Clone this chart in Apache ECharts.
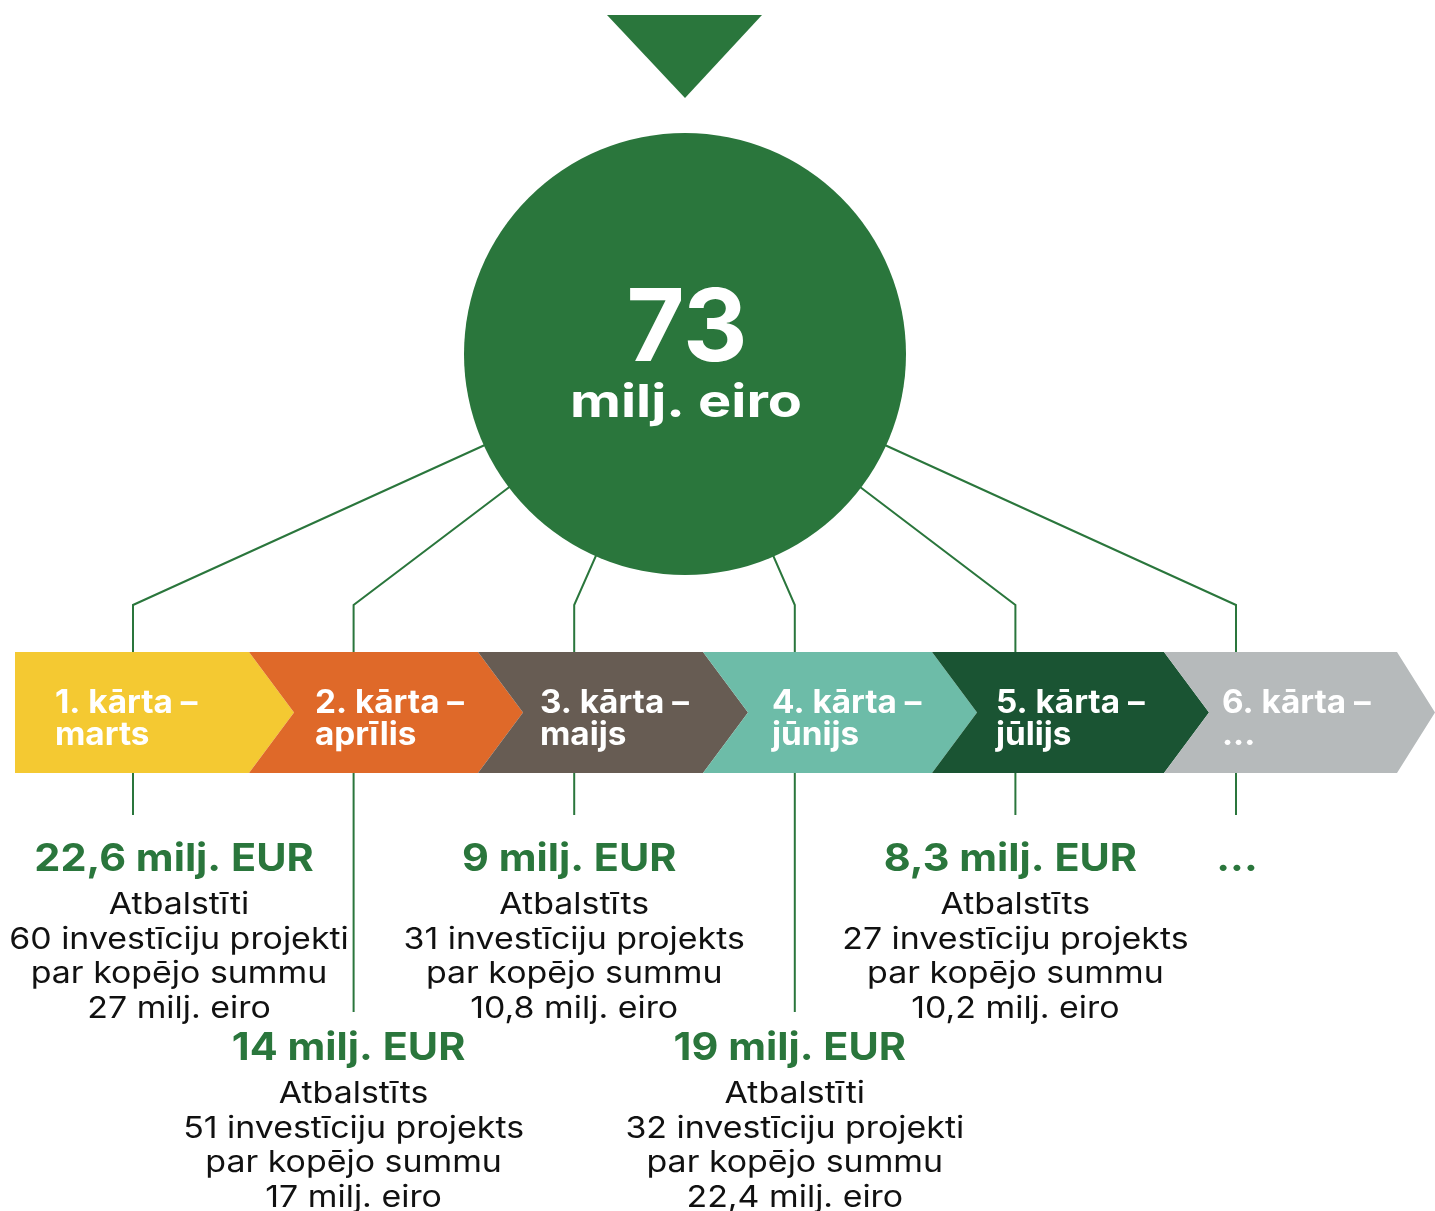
<!DOCTYPE html>
<html><head><meta charset="utf-8">
<script src="https://cdn.jsdelivr.net/npm/echarts@6/dist/echarts.min.js"></script>
<style>html,body{margin:0;padding:0;background:#fff}#c{width:1435px;height:1211px}</style>
</head><body><div id="c"></div>
<script>
// ---- data ----
const roundNames = ['1. kārta –','2. kārta –','3. kārta –','4. kārta –','5. kārta –','6. kārta –'];
const months = ['marts','aprīlis','maijs','jūnijs','jūlijs','...'];
const allocated = [22.6, 14, 9, 19, 8.3, null];          // milj. EUR
const supportedWord = ['Atbalstīti','Atbalstīts','Atbalstīts','Atbalstīti','Atbalstīts', null];
const projectCount = [60, 51, 31, 32, 27, null];
const projectWord = ['projekti','projekts','projekts','projekti','projekts', null];
const projectSum = [27, 17, 10.8, 22.4, 10.2, null];      // milj. eiro
const totalBudget = 73;

// ---- styles / layout ----
const roundColors = ['#F4C932','#DF6929','#675C53','#6DBCA8','#1A5433','#B6BABB'];
const GREEN = '#2A763C';
const FONT = 'Inter';
const CIRCLE = {x:685, y:354, r:221};
const BAND_TOP = 652, BAND_BOT = 773, BAND_MID = 712.5, TIP = 45;
const CHEV_L = [15, 249, 478, 703, 932, 1164, 1397];
const LABEL_X = [55, 315, 540, 772, 996, 1222];
const connX = i => 133 + i * 220.6;
const lowerRow = i => i === 1 || i === 3;
const fmt = v => String(v).replace('.', ',');

const idx = roundNames.map((_, i) => [i]);
const chart = echarts.init(document.getElementById('c'), null, {renderer:'canvas'});

function pt(api, x, y){ return api.coord([x, y]); }

const option = {
  animation:false,
  grid:{left:0,right:0,top:0,bottom:0},
  xAxis:{type:'value',min:0,max:1435,show:false},
  yAxis:{type:'value',min:0,max:1211,inverse:true,show:false},
  series:[
    // connectors
    { type:'custom', z:1, data:idx, renderItem:(p, api)=>{
        const i = api.value(0);
        const cx = connX(i);
        const lowerEnd = lowerRow(i) ? 1012 : 815;
        const a = pt(api,cx,BAND_BOT), b = pt(api,cx,lowerEnd);
        return {type:'group', children:[
          {type:'polyline', shape:{points:[pt(api,CIRCLE.x,CIRCLE.y), pt(api,cx,605), pt(api,cx,BAND_TOP)]},
            style:{stroke:GREEN, lineWidth:2, fill:null}},
          {type:'line', shape:{x1:a[0], y1:a[1], x2:b[0], y2:b[1]}, style:{stroke:GREEN, lineWidth:2}}
        ]};
    }},
    // circle & triangle
    { type:'custom', z:3, data:[[totalBudget]], renderItem:(p, api)=>{
        const c = pt(api, CIRCLE.x, CIRCLE.y);
        return {type:'group', children:[
          {type:'polygon', shape:{points:[pt(api,607,15), pt(api,762,15), pt(api,685,98)]}, style:{fill:GREEN}},
          {type:'circle', shape:{cx:c[0], cy:c[1], r:CIRCLE.r}, style:{fill:GREEN}},
          {type:'text', x:c[0]+2, y:c[1]-23, scaleX:1.0, style:{text:String(api.value(0)), fill:'#fff', font:'bold 100px '+FONT, textAlign:'center', textVerticalAlign:'middle'}},
          {type:'text', x:c[0]+1, y:c[1]+49, scaleX:1.24, style:{text:'milj. eiro', fill:'#fff', font:'bold 45px '+FONT, textAlign:'center', textVerticalAlign:'middle'}}
        ]};
    }},
    // chevrons
    { type:'custom', z:2, data:idx, renderItem:(p, api)=>{
        const i = api.value(0);
        const L = CHEV_L[i], R = CHEV_L[i+1];
        const tip = i === 5 ? 38 : TIP;
        const pts = [[L,BAND_TOP],[R,BAND_TOP],[R+tip,BAND_MID],[R,BAND_BOT],[L,BAND_BOT]];
        if (i > 0) pts.push([L+TIP, BAND_MID]);
        const tx = pt(api, LABEL_X[i], 0)[0];
        return {type:'group', children:[
          {type:'polygon', shape:{points:pts.map(q=>pt(api,q[0],q[1]))}, style:{fill:roundColors[i]}},
          {type:'text', x:tx, y:pt(api,0,703)[1], scaleX:1.04, style:{text:roundNames[i], fill:'#fff', font:'bold 32px '+FONT, textAlign:'left', textVerticalAlign:'middle'}},
          {type:'text', x:tx, y:pt(api,0,735)[1], scaleX:1.04, style:{text:months[i], fill:'#fff', font:'bold 32px '+FONT, textAlign:'left', textVerticalAlign:'middle'}}
        ]};
    }},
    // text blocks
    { type:'custom', z:2, data:idx, renderItem:(p, api)=>{
        const i = api.value(0);
        const cx = i === 0 ? 179 : connX(i);
        const hy = lowerRow(i) ? 1049 : 860;
        const children = [];
        const hasData = allocated[i] != null;
        const heading = hasData ? fmt(allocated[i]) + ' milj. EUR' : '...';
        children.push({type:'text', x:pt(api,hasData ? cx-5 : cx+1,0)[0], y:pt(api,0,hy)[1], scaleX:1.09, style:{text:heading, fill:GREEN, font:'bold 38px '+FONT, textAlign:'center', textVerticalAlign:'middle'}});
        if (projectCount[i] != null) {
          const lines = [supportedWord[i], projectCount[i] + ' investīciju ' + projectWord[i], 'par kopējo summu', fmt(projectSum[i]) + ' milj. eiro'];
          const offs = [45, 80, 114, 149];
          lines.forEach((t, k) => children.push({type:'text', x:pt(api,cx,0)[0], y:pt(api,0,hy+offs[k])[1], scaleX:1.13,
            style:{text:t, fill:'#111', font:'30px '+FONT, textAlign:'center', textVerticalAlign:'middle'}}));
        }
        return {type:'group', children};
    }}
  ]
};
chart.setOption(option);
</script></body></html>
